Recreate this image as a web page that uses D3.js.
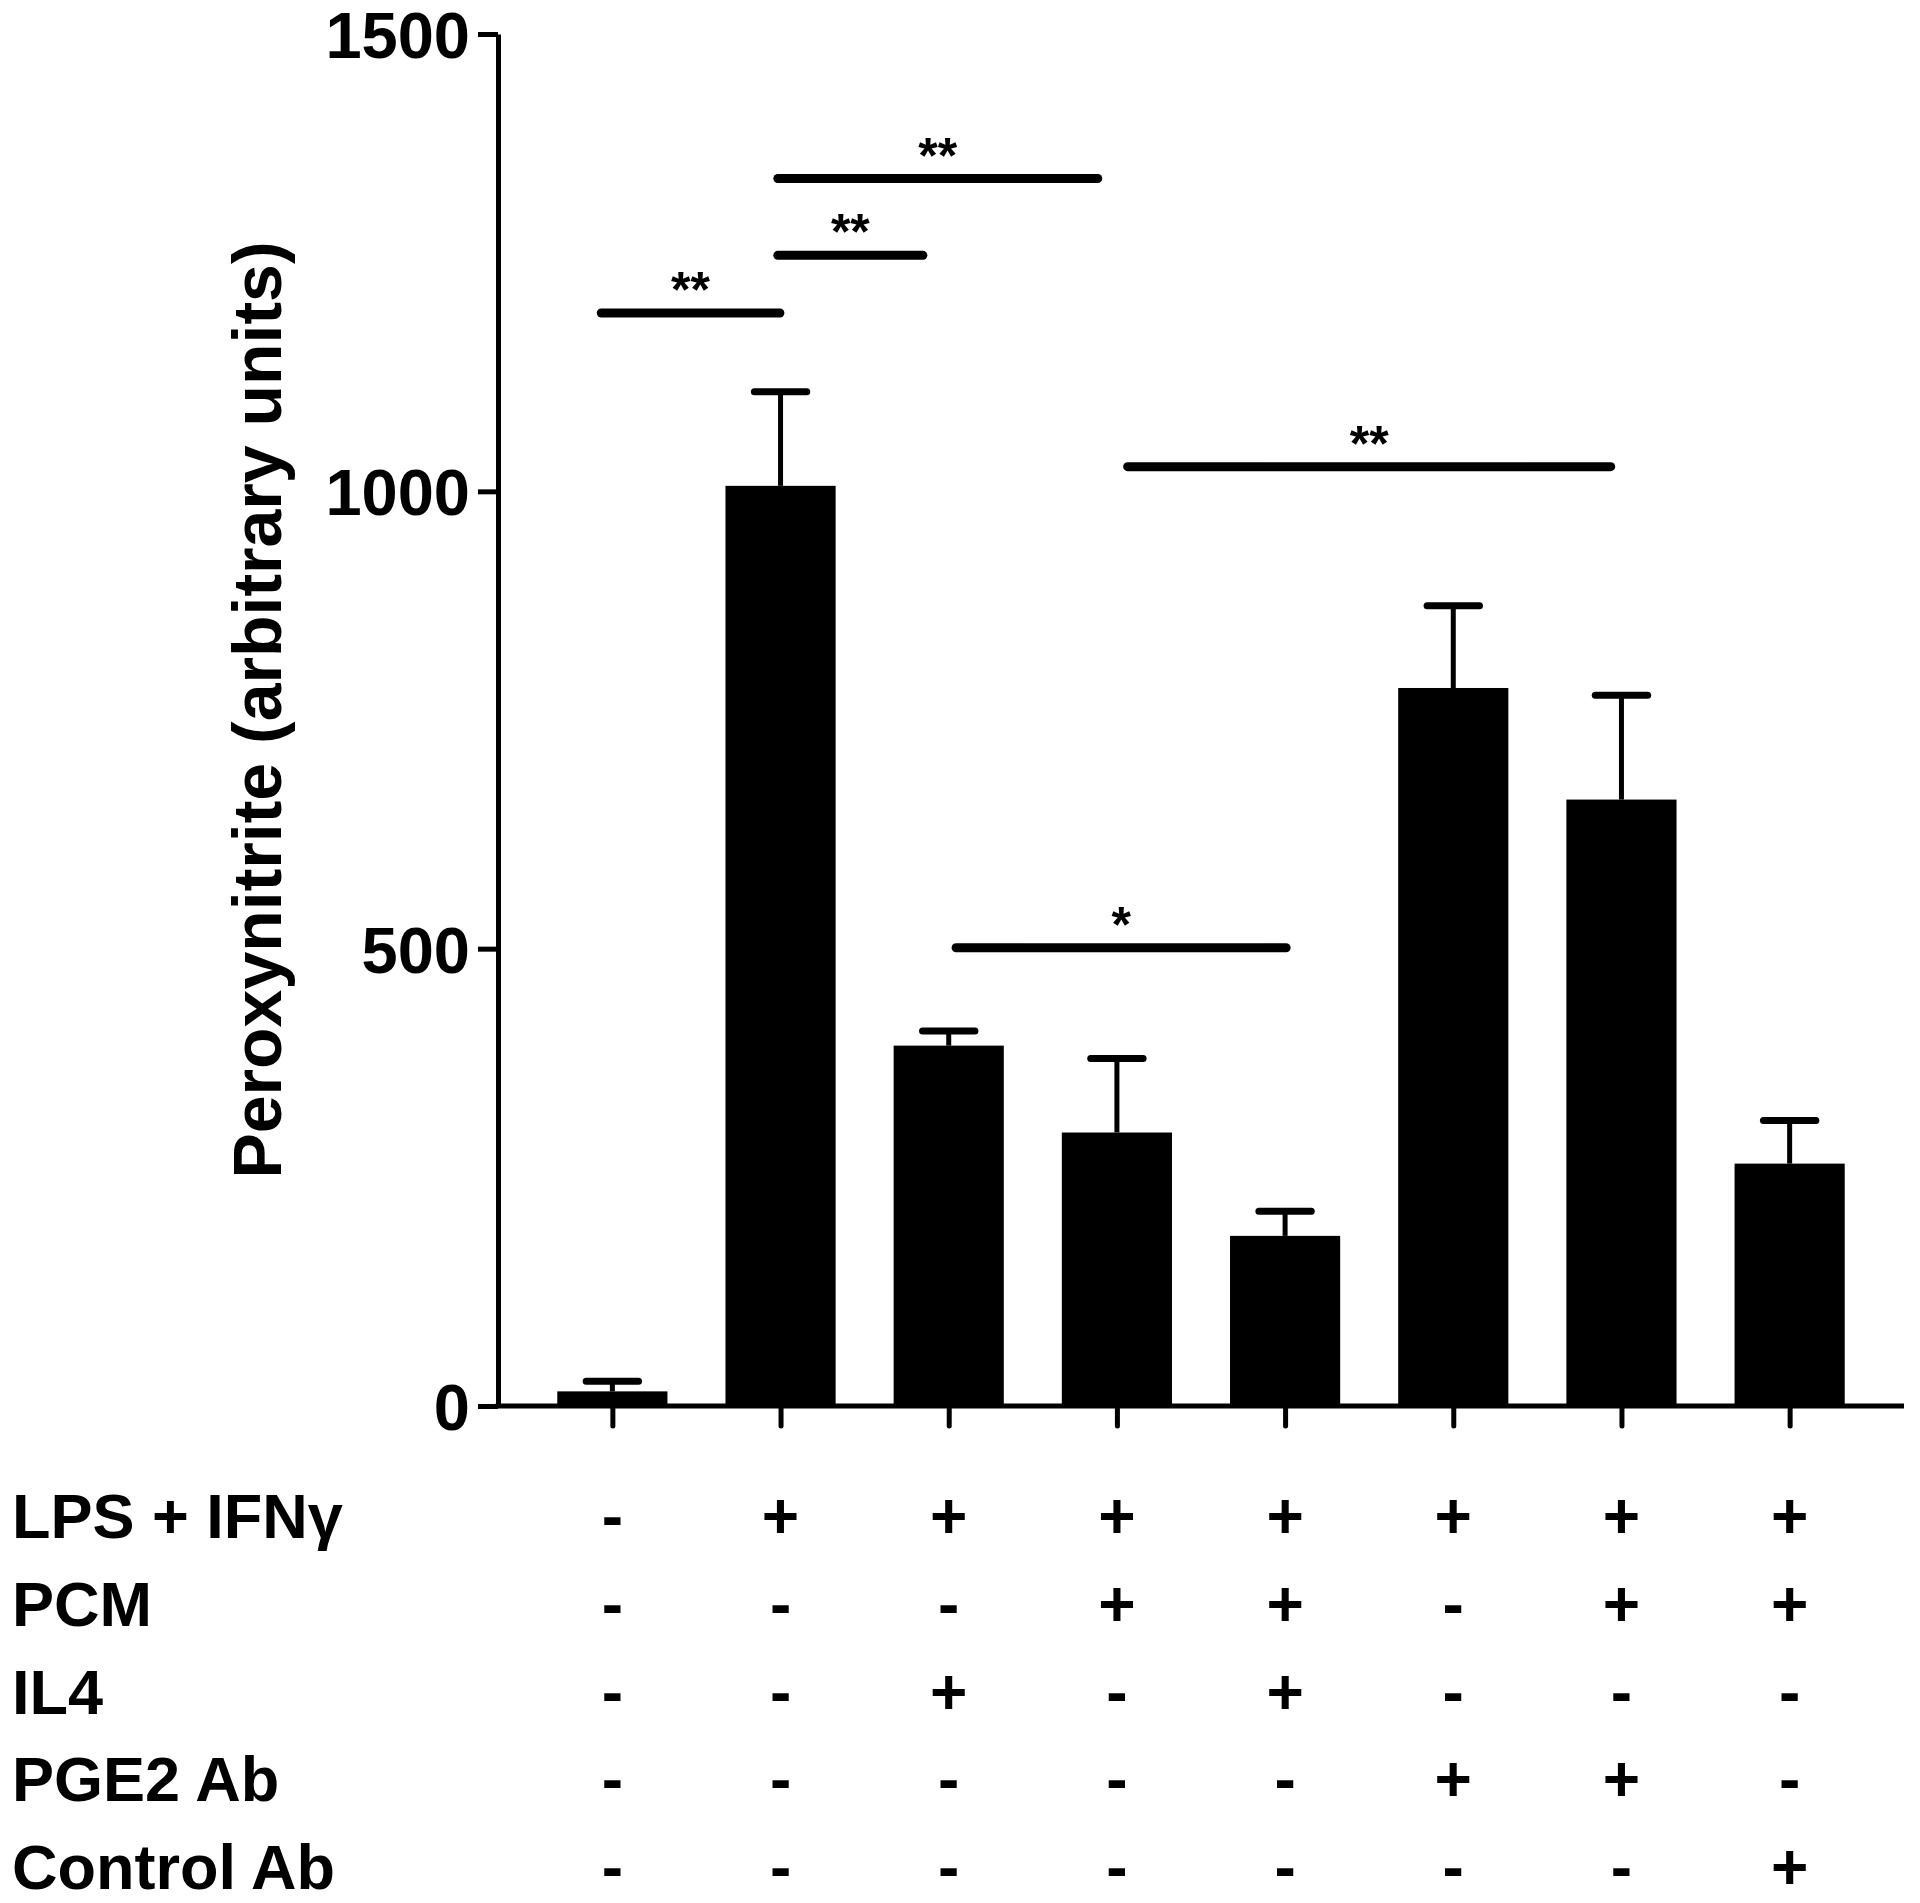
<!DOCTYPE html>
<html>
<head>
<meta charset="utf-8">
<script src="https://cdn.jsdelivr.net/npm/d3@7"></script>
<style>
  body { margin: 0; background: #fff; }
  svg text { font-family: "Liberation Sans", Arial, sans-serif; font-weight: bold; fill: #000; }
</style>
</head>
<body>
<div id="chart"></div>
<script>
// bar values and upper error (mean + sem)
var groups = ["g1", "g2", "g3", "g4", "g5", "g6", "g7", "g8"];
var means = [16, 1006, 394, 299, 186, 785, 663, 265];
var upper = [27, 1109, 410, 380, 213, 875, 777, 312];
var yTicks = [0, 500, 1000, 1500];

// treatment table under the x axis
var rowLabels = ["LPS + IFN\u03b3", "PCM", "IL4", "PGE2 Ab", "Control Ab"];
var rowSigns = [
    ["-", "+", "+", "+", "+", "+", "+", "+"],
    ["-", "-", "-", "+", "+", "-", "+", "+"],
    ["-", "-", "+", "-", "+", "-", "-", "-"],
    ["-", "-", "-", "-", "-", "+", "+", "-"],
    ["-", "-", "-", "-", "-", "-", "-", "+"]
];

// significance lines: start / end in group-index units (as drawn), height, label
var sigFrom = [-0.09, 0.96, 0.96, 3.04, 2.02];
var sigTo = [1.02, 1.87, 2.91, 5.96, 4.03];
var sigY = [1195, 1258, 1342, 1027, 501];
var sigLabel = ["**", "**", "**", "**", "*"];

(function() {
var W = 1920, H = 1903;
var mLeft = 498, mRight = 1904, mTop = 34, mBottom = 1406;

var svg = d3.select("#chart").append("svg")
    .attr("width", W)
    .attr("height", H);

var x = d3.scalePoint()
    .domain(groups)
    .range([mLeft, mRight])
    .padding(0.68);

// same positions, for fractional group indices
var xi = d3.scaleLinear()
    .domain([0, groups.length - 1])
    .range([x(groups[0]), x(groups[groups.length - 1])]);

var barW = x.step() * 0.655;

var y = d3.scaleLinear()
    .domain([0, 1500])
    .range([mBottom, mTop]);

// bars
svg.selectAll(".bar")
    .data(means)
    .enter().append("rect")
    .attr("class", "bar")
    .attr("x", function(d, i) { return x(groups[i]) - barW / 2; })
    .attr("width", barW)
    .attr("y", function(d) { return y(d); })
    .attr("height", function(d) { return mBottom - y(d); })
    .attr("fill", "#000");

// error bars (upper only)
var capW = barW * 0.53;
svg.selectAll(".err")
    .data(upper)
    .enter().append("line")
    .attr("x1", function(d, i) { return x(groups[i]); })
    .attr("x2", function(d, i) { return x(groups[i]); })
    .attr("y1", function(d, i) { return y(means[i]); })
    .attr("y2", function(d) { return y(d); })
    .attr("stroke", "#000")
    .attr("stroke-width", 5);

svg.selectAll(".cap")
    .data(upper)
    .enter().append("line")
    .attr("x1", function(d, i) { return x(groups[i]) - capW / 2 + 3; })
    .attr("x2", function(d, i) { return x(groups[i]) + capW / 2 - 3; })
    .attr("y1", function(d) { return y(d); })
    .attr("y2", function(d) { return y(d); })
    .attr("stroke", "#000")
    .attr("stroke-width", 7)
    .attr("stroke-linecap", "round");

// y axis
var yAxis = svg.append("g")
    .attr("transform", "translate(" + mLeft + ",0)")
    .call(d3.axisLeft(y).tickValues(yTicks).tickFormat(d3.format("d"))
        .tickSize(20).tickPadding(8).tickSizeOuter(0));
yAxis.select(".domain").attr("stroke-width", 5);
yAxis.selectAll(".tick line").attr("stroke-width", 5);
yAxis.selectAll(".tick text")
    .style("font-size", "65px")
    .attr("dy", "0.36em");

// x axis
var xAxis = svg.append("g")
    .attr("transform", "translate(0," + mBottom + ")")
    .call(d3.axisBottom(x).tickSize(20).tickSizeOuter(0).tickFormat(""));
xAxis.select(".domain")
    .attr("d", "M" + (mLeft - 2.5) + ",0H" + mRight)
    .attr("stroke-width", 5);
xAxis.selectAll(".tick line").attr("stroke-width", 5).attr("stroke-linecap", "round");

// y title
svg.append("text")
    .attr("transform", "translate(281,710) rotate(-90)")
    .attr("text-anchor", "middle")
    .style("font-size", "68px")
    .text("Peroxynitrite (arbitrary units)");

// significance lines
svg.selectAll(".sig")
    .data(sigY)
    .enter().append("line")
    .attr("x1", function(d, i) { return xi(sigFrom[i]) + 4; })
    .attr("x2", function(d, i) { return xi(sigTo[i]) - 4; })
    .attr("y1", function(d) { return y(d); })
    .attr("y2", function(d) { return y(d); })
    .attr("stroke", "#000")
    .attr("stroke-width", 9)
    .attr("stroke-linecap", "round");

svg.selectAll(".sigtxt")
    .data(sigLabel)
    .enter().append("text")
    .attr("x", function(d, i) { return (xi(sigFrom[i]) + xi(sigTo[i])) / 2; })
    .attr("y", function(d, i) { return y(sigY[i]) - 6; })
    .attr("text-anchor", "middle")
    .style("font-size", "50px")
    .text(function(d) { return d; });

// treatment table
var rowY = d3.scaleLinear().domain([0, 4]).range([1538, 1889]);

svg.selectAll(".rowlab")
    .data(rowLabels)
    .enter().append("text")
    .attr("x", 12)
    .attr("y", function(d, i) { return rowY(i); })
    .style("font-size", "63px")
    .text(function(d) { return d; });

rowSigns.forEach(function(row, r) {
    svg.selectAll(".sign" + r)
        .data(row)
        .enter().append("text")
        .attr("x", function(d, i) { return x(groups[i]); })
        .attr("y", rowY(r))
        .attr("text-anchor", "middle")
        .style("font-size", "64px")
        .text(function(d) { return d; });
});
})();
</script>
</body>
</html>
